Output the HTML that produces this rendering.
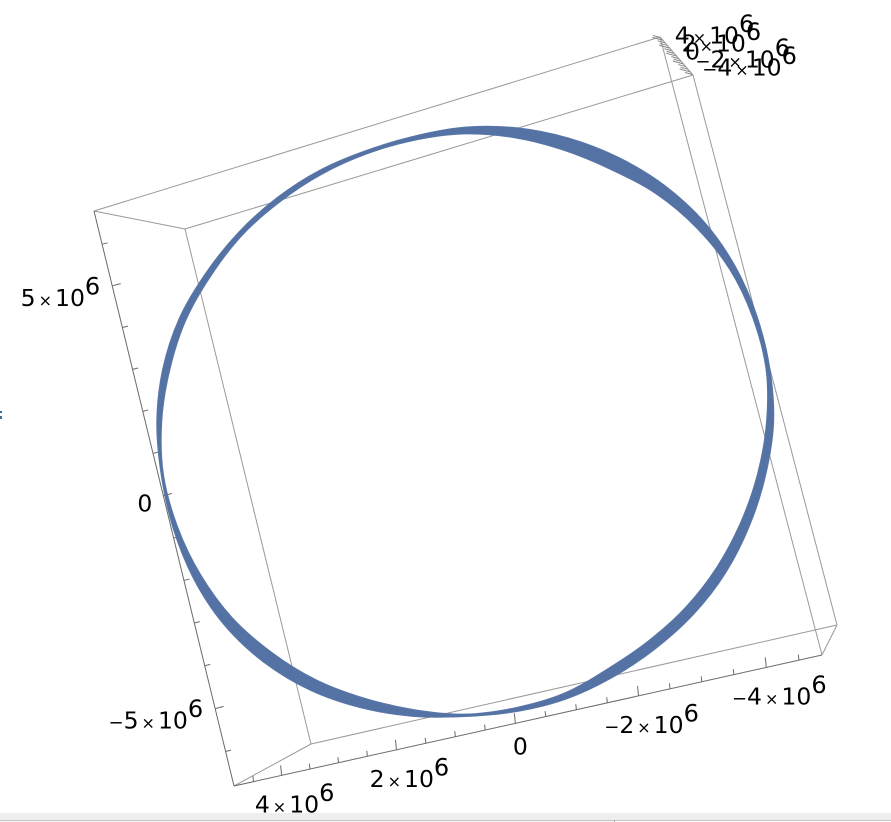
<!DOCTYPE html>
<html lang="en">
<head>
<meta charset="utf-8">
<title>3D orbit plot</title>
<style>
html,body{margin:0;padding:0;background:#fff;width:891px;height:822px;overflow:hidden}
svg{display:block}
text{font-family:"DejaVu Sans","Liberation Sans",sans-serif;fill:#000}
</style>
</head>
<body>
<svg id="chart" xmlns="http://www.w3.org/2000/svg" width="891" height="822" viewBox="0 0 891 822">
  <g id="box" stroke="#999" stroke-width="1" fill="none">
    <line x1="94" y1="211" x2="660" y2="37"/>
    <line x1="94" y1="211" x2="185" y2="229"/>
    <line x1="185" y1="229" x2="693" y2="75"/>
    <line x1="185" y1="229" x2="311" y2="744"/>
    <line x1="660" y1="37" x2="822" y2="655"/>
    <line x1="693" y1="75" x2="837" y2="625"/>
    <line x1="822" y1="655" x2="837" y2="625"/>
    <line x1="311" y1="744" x2="837" y2="625"/>
    <line x1="234" y1="786" x2="311" y2="744"/>
    <line x1="660" y1="37" x2="693" y2="75"/>
  </g>
  <g id="axes" stroke="#6a6a6a" stroke-width="1" fill="none">
    <line x1="94" y1="211" x2="234" y2="786"/>
    <line x1="234" y1="786" x2="822" y2="655"/>
  </g>
  <g id="ticks" fill="none" stroke-width="1"></g>
  <path id="ring" fill="#5472a4" fill-rule="evenodd" stroke="#5a78a8" stroke-width="0.8"/>
  <g id="labels"></g>
  <g fill="#3f6a9e">
    <rect x="0" y="411" width="2" height="2"/>
    <rect x="0" y="416" width="2" height="3"/>
  </g>
  <g>
    <rect x="0" y="813" width="891" height="7" fill="#eeeeee"/>
    <rect x="0" y="820" width="891" height="1" fill="#c4c4c4"/>
    <rect x="0" y="821" width="614" height="1" fill="#f4f4f4"/>
    <rect x="614" y="820" width="1" height="2" fill="#aaaaaa"/>
  </g>
</svg>
<script>
// Axis values (all in units of 10^6)
const xMajorTicks = [4, 2, 0, -2, -4];
const xMinorTicks = [4.5, 3.5, 3, 2.5, 1.5, 1, 0.5, -0.5, -1, -1.5, -2.5, -3, -3.5, -4.5];
const yMajorTicks = [5, 0, -5];
const yMinorTicks = [6, 4, 3, 2, 1, -1, -2, -3, -4, -6];
const zMajorTicks = [4, 2, 0, -2, -4];
const zMinorTicks = [4.67, 3.33, 2.67, 1.33, 0.67, -0.67, -1.33, -2.67, -3.33, -4.67];

// Orbit band: view angle (degrees clockwise from up) and edge radii (units of 10^6)
const orbitAngles = [0,10,20,30,40,50,60,70,80,90,100,110,120,130,140,150,160,170,180,190,200,210,220,230,240,250,260,270,280,290,300,310,320,330,340,350];
const outerRadius = [5.900,5.976,6.046,6.120,6.192,6.240,6.240,6.214,6.192,6.174,6.108,6.060,6.026,5.976,5.924,5.900,5.900,5.884,5.892,5.980,6.086,6.196,6.270,6.300,6.270,6.214,6.170,6.166,6.140,6.080,5.980,5.910,5.856,5.816,5.780,5.810];
const innerRadius = [5.760,5.768,5.780,5.830,5.950,6.040,6.108,6.120,6.110,6.028,5.940,5.866,5.810,5.760,5.710,5.700,5.774,5.800,5.840,5.840,5.876,5.952,6.012,6.080,6.104,6.116,6.120,6.064,5.994,5.940,5.860,5.812,5.750,5.720,5.708,5.722];

// Axis geometry
const XMAX = 4.85, YMAX = 6.8, ZMAX = 4.8;
const corner = { xa:[234,786], xb:[822,655], yb:[94,211], za:[660,37], zb:[693,75] };

function persp(t, k) { const r = t / (1 - t) / k; return r / (1 + r); }
function lerp(a, b, s) { return [a[0] + (b[0] - a[0]) * s, a[1] + (b[1] - a[1]) * s]; }
function xAxis(v) { return lerp(corner.xa, corner.xb, persp((XMAX - v) / (2 * XMAX), 1.09)); }
function yAxis(v) { return lerp(corner.xa, corner.yb, persp((v + YMAX) / (2 * YMAX), 1 / 1.02)); }
function zAxis(v) { return lerp(corner.za, corner.zb, (ZMAX - v) / (2 * ZMAX)); }
// View-plane polar scale for the orbit
function rScale(r) { return r * 50; }
function polar(angleDeg, r) {
  const a = angleDeg * Math.PI / 180;
  return [465 + rScale(r) * Math.sin(a), 422 - rScale(r) * Math.cos(a)];
}

const NS = 'http://www.w3.org/2000/svg';
const tickLayer = document.getElementById('ticks');
const labelLayer = document.getElementById('labels');

function addTick(p, dx, dy, color, name) {
  const l = document.createElementNS(NS, 'line');
  
  
  l.setAttribute('x1', p[0]);
  l.setAttribute('y1', p[1]);
  l.setAttribute('x2', p[0] + dx);
  l.setAttribute('y2', p[1] + dy);
  l.setAttribute('stroke', color);
  tickLayer.appendChild(l);
}

function addSpan(parent, str, size, dx, dy) {
  const s = document.createElementNS(NS, 'tspan');
  s.textContent = str;
  s.setAttribute('font-size', size);
  if (dx) s.setAttribute('dx', dx);
  if (dy) s.setAttribute('dy', dy);
  parent.appendChild(s);
}

function addLabel(v, x, y, anchor, name) {
  const t = document.createElementNS(NS, 'text');
  
  
  t.setAttribute('x', x);
  t.setAttribute('y', y);
  t.setAttribute('text-anchor', anchor);
  t.setAttribute('font-size', 23.5);
  if (v === 0) {
    addSpan(t, '0', 23.5, 0, 0);
  } else {
    if (v < 0) addSpan(t, '\u2212', 18, 0, 0);
    addSpan(t, String(Math.abs(v)), 23.5, 0, 0);
    addSpan(t, '\u00d7', 16, 3, 0);
    addSpan(t, '10', 23.5, 3, 0);
    addSpan(t, '6', 24, 0, -11.5);
  }
  labelLayer.appendChild(t);
}

xMinorTicks.forEach(function (v) { addTick(xAxis(v), -0.6, -5.5, '#6a6a6a', 'x-minor-tick'); });
xMajorTicks.forEach(function (v) {
  const p = xAxis(v);
  addTick(p, -1, -10, '#6a6a6a', 'x-major-tick');
  if (v === 0) addLabel(v, p[0] + 5, p[1] + 31, 'middle', 'x-tick-label');
  else addLabel(v, p[0] + 13, p[1] + 37, 'middle', 'x-tick-label');
});

yMinorTicks.forEach(function (v) { addTick(yAxis(v), 5.5, -1.4, '#6a6a6a', 'y-minor-tick'); });
yMajorTicks.forEach(function (v) {
  const p = yAxis(v);
  addTick(p, 8.5, -2.2, '#6a6a6a', 'y-major-tick');
  if (v === 0) addLabel(v, p[0] - 11, p[1] + 16, 'end', 'y-tick-label');
  else addLabel(v, p[0] - 12, p[1] + 20, 'end', 'y-tick-label');
});

zMinorTicks.forEach(function (v) { addTick(zAxis(v), -7.5, -2, '#888888', 'z-minor-tick'); });
zMajorTicks.forEach(function (v) {
  const p = zAxis(v);
  addTick(p, -10.5, -2.8, '#888888', 'z-major-tick');
  addLabel(v, p[0] + (v === 0 ? 8.5 : 12), p[1] + 3.5, 'start', 'z-tick-label');
});

// Closed Catmull-Rom curve through the orbit edge samples
function ringPath(angles, radii) {
  const pts = angles.map(function (a, i) { return polar(a, radii[i]); });
  const n = pts.length;
  let d = 'M' + pts[0][0].toFixed(1) + ' ' + pts[0][1].toFixed(1);
  for (let i = 0; i < n; i++) {
    const p0 = pts[(i - 1 + n) % n], p1 = pts[i], p2 = pts[(i + 1) % n], p3 = pts[(i + 2) % n];
    const c1x = p1[0] + (p2[0] - p0[0]) / 6, c1y = p1[1] + (p2[1] - p0[1]) / 6;
    const c2x = p2[0] - (p3[0] - p1[0]) / 6, c2y = p2[1] - (p3[1] - p1[1]) / 6;
    d += 'C' + c1x.toFixed(1) + ' ' + c1y.toFixed(1) + ' ' + c2x.toFixed(1) + ' ' + c2y.toFixed(1) + ' ' + p2[0].toFixed(1) + ' ' + p2[1].toFixed(1);
  }
  return d + 'Z';
}
document.getElementById('ring').setAttribute('d', ringPath(orbitAngles, outerRadius) + ringPath(orbitAngles, innerRadius));
</script>
</body>
</html>
